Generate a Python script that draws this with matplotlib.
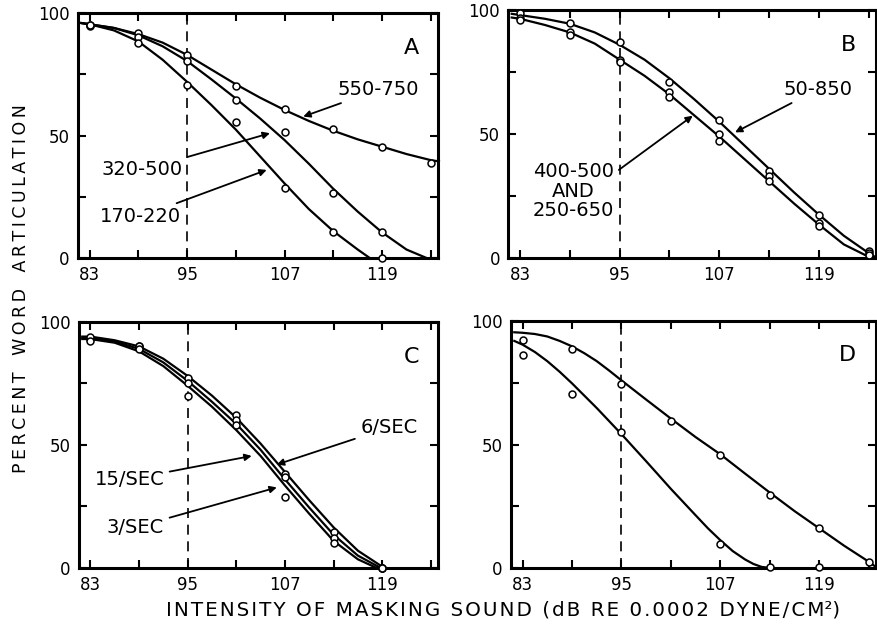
import numpy as np
import matplotlib.pyplot as plt

# masking sound intensity, dB (tick positions every 6 dB)
X_TICKS = [83, 89, 95, 101, 107, 113, 119, 125]
X_LABELS = ["83", "", "95", "", "107", "", "119", ""]
Y_TICKS = [0, 25, 50, 75, 100]
Y_LABELS = ["0", "", "50", "", "100"]

# measured points are at the tick positions
pts_x = [83, 89, 95, 101, 107, 113, 119, 125]

# ---- panel A ----
a_550_pts = [94.6, 91.8, 83, 70.3, 60.8, 52.7, 45.3, 39]
a_320_pts = [95, 90.5, 80.3, 64.6, 51.7, 26.5, 10.6]
a_170_pts = [95, 87.8, 70.7, 55.4, 28.6, 10.5, 0]

a_550_cx = [82, 83, 86, 89, 92, 95, 98, 101, 104, 107, 110, 113, 116, 119, 122, 125, 126]
a_550_cy = [96, 95.5, 94, 91.5, 88, 83, 77, 71, 65.5, 60.5, 56, 52, 48.5, 45.5, 42.5, 40, 39.5]
a_320_cx = [82, 83, 86, 89, 92, 95, 98, 101, 104, 107, 110, 113, 116, 119, 122, 124.5]
a_320_cy = [96, 95.5, 94, 91, 86.5, 80.5, 73, 65.2, 57, 48.2, 38.5, 28.3, 19, 10.5, 3.5, 0]
a_170_cx = [82, 83, 86, 89, 92, 95, 98, 101, 104, 107, 110, 113, 116, 117.5]
a_170_cy = [96, 95.5, 93, 88.5, 81, 72, 62.5, 52.5, 41.5, 30.5, 20, 11, 3.5, 0]

# ---- panel B ----
b_50_pts = [99, 94.6, 87.2, 71, 55.8, 35, 17.2, 2.7]
b_400_pts = [97, 91, 80, 67, 50, 33, 14, 2]
b_250_pts = [96, 90, 79, 65, 47.3, 31, 12.8, 1.4]

b_up_cx = [82, 83, 86, 89, 92, 95, 98, 101, 104, 107, 110, 113, 116, 119, 122, 125, 126]
b_up_cy = [98.5, 98, 96.5, 94.5, 91, 86, 80, 72.5, 64, 55, 45.5, 36, 26.5, 17.5, 9, 2, 0]
b_lo_cx = [82, 83, 86, 89, 92, 95, 98, 101, 104, 107, 110, 113, 116, 119, 122, 125, 125.6]
b_lo_cy = [97, 96.5, 94, 91, 86.5, 80, 73.5, 66, 57.5, 49, 40, 31, 22, 13.5, 5.5, 0.5, 0]

# ---- panel C ----
c_6_pts = [93, 90, 77, 62, 38, 14.5, 0]
c_15_pts = [94, 90, 75, 60, 37, 12, 0]
c_3_pts = [92, 89, 70, 58, 29, 10, 0]

c_cx_6 = [82, 83, 86, 89, 92, 95, 98, 101, 104, 107, 110, 113, 116, 119, 119.3]
c_cy_6 = [94, 94, 92.5, 90, 85, 78, 70, 61, 50.5, 39, 27.5, 16.5, 7, 0.5, 0]
c_cx_15 = [82, 83, 86, 89, 92, 95, 98, 101, 104, 107, 110, 113, 116, 118.8]
c_cy_15 = [93.5, 93.5, 92, 89, 83.5, 76, 67.5, 58.5, 48, 36, 24.5, 13.5, 5, 0]
c_cx_3 = [82, 83, 86, 89, 92, 95, 98, 101, 104, 107, 110, 113, 116, 118.3]
c_cy_3 = [93, 93, 91.5, 88, 82, 74, 65.5, 56, 45.5, 33.5, 22, 11, 3.5, 0]

# ---- panel D ----
d_up_pts = [92.5, 88.8, 74.5, 59.6, 45.8, 29.5, 16, 2.4]
d_lo_x = [83, 89, 95, 107, 113, 119]
d_lo_pts = [86.4, 70.6, 55, 9.6, 0.4, 0.4]

d_up_cx = [82, 83, 84.5, 86, 87.5, 89, 90.5, 92, 93.5, 95, 98, 101, 104, 107, 110, 113, 116, 119, 122, 125, 126]
d_up_cy = [95.5, 95.3, 94.8, 93.8, 92, 89.8, 87, 83.8, 80, 76, 68.2, 60.5, 53, 46, 38.2, 30.5, 23, 16, 9, 2.5, 0]
d_lo_cx = [82, 83, 84.5, 86, 87.5, 89, 92, 95, 98, 101, 104, 105.5, 107, 108.5, 110, 111, 112, 113]
d_lo_cy = [92, 90.5, 87.5, 83.8, 79.5, 74.8, 64.8, 54.2, 43.2, 32, 21.3, 16, 11.2, 6.8, 3.4, 1.6, 0.4, 0]


def setup(ax, letter, lx, ly):
    ax.set_xlim(81.6, 125.9)
    ax.set_ylim(0, 100)
    ax.set_xticks(X_TICKS)
    ax.set_xticklabels(X_LABELS)
    ax.set_yticks(Y_TICKS)
    ax.set_yticklabels(Y_LABELS)
    ax.tick_params(direction="in", length=6, width=1.5, top=True, right=True,
                   labelsize=12, pad=6)
    for s in ax.spines.values():
        s.set_linewidth(2.2)
    ax.axvline(95, color="black", lw=1.2, ls=(0, (6, 4)), zorder=1)
    ax.text(lx, ly, letter, fontsize=16, ha="center", va="center")


def curve(ax, cx, cy):
    ax.plot(cx, cy, color="black", lw=1.6, zorder=2, clip_on=False,
            solid_joinstyle="round")


def points(ax, px, py):
    ax.plot(px, py, "o", ms=5, mfc="white", mec="black", mew=1.1, zorder=3, clip_on=False)


def label(ax, txt, xy, xytext, ha="left"):
    ax.annotate(txt, xy=xy, xytext=xytext, fontsize=14, ha=ha, va="center",
                arrowprops=dict(arrowstyle="-|>", color="black", lw=1.3,
                                shrinkA=2, shrinkB=0, mutation_scale=10))


fig = plt.figure(figsize=(8.78, 6.31), dpi=100)
axA = fig.add_axes([0.089, 0.591, 0.410, 0.388])
axB = fig.add_axes([0.579, 0.591, 0.419, 0.393])
axC = fig.add_axes([0.090, 0.100, 0.409, 0.390])
axD = fig.add_axes([0.582, 0.100, 0.416, 0.391])

# A
setup(axA, "A", 122.6, 85.7)
curve(axA, a_550_cx, a_550_cy)
curve(axA, a_320_cx, a_320_cy)
curve(axA, a_170_cx, a_170_cy)
points(axA, pts_x, a_550_pts)
points(axA, pts_x[:7], a_320_pts)
points(axA, pts_x[:7], a_170_pts)
label(axA, "550-750", (109.3, 57.8), (113.5, 68.7))
label(axA, "320-500", (105.2, 51), (94.5, 36), ha="right")
label(axA, "170-220", (104.8, 36), (94.3, 17), ha="right")

# B
setup(axB, "B", 122.6, 86)
curve(axB, b_up_cx, b_up_cy)
curve(axB, b_lo_cx, b_lo_cy)
points(axB, pts_x, b_50_pts)
points(axB, pts_x, b_400_pts)
points(axB, pts_x, b_250_pts)
label(axB, "50-850", (108.9, 50.7), (114.7, 68))
axB.annotate("400-500\nAND\n250-650", xy=(103.8, 57.4), xytext=(94.3, 27),
             fontsize=14, ha="right", va="center", multialignment="center",
             linespacing=1.05,
             arrowprops=dict(arrowstyle="-|>", color="black", lw=1.3,
                             shrinkA=2, shrinkB=0, mutation_scale=10,
                             relpos=(1.0, 0.8)))

# C
setup(axC, "C", 122.6, 85.6)
curve(axC, c_cx_6, c_cy_6)
curve(axC, c_cx_15, c_cy_15)
curve(axC, c_cx_3, c_cy_3)
points(axC, pts_x[:7], c_6_pts)
points(axC, pts_x[:7], c_15_pts)
points(axC, pts_x[:7], c_3_pts)
label(axC, "6/SEC", (106, 42), (116.3, 57))
label(axC, "15/SEC", (102.9, 45.5), (92.1, 36), ha="right")
label(axC, "3/SEC", (106, 32.7), (92.1, 16.5), ha="right")

# D
setup(axD, "D", 122.4, 86.4)
curve(axD, d_up_cx, d_up_cy)
curve(axD, d_lo_cx, d_lo_cy)
points(axD, pts_x, d_up_pts)
points(axD, d_lo_x, d_lo_pts)

ylab = "\u2009".join("PERCENT") + "   " + "\u2009".join("WORD") + "   " + "\u2009".join("ARTICULATION")
fig.text(0.024, 0.542, ylab, rotation=90, fontsize=12.5, ha="center", va="center")
xlab = "\u200a".join("INTENSITY OF MASKING SOUND (dB RE 0.0002 DYNE/CM") + "\u00b2)"
fig.text(0.573, 0.033, xlab, fontsize=14.3, ha="center", va="center")

fig.savefig("out.png", dpi=100)
